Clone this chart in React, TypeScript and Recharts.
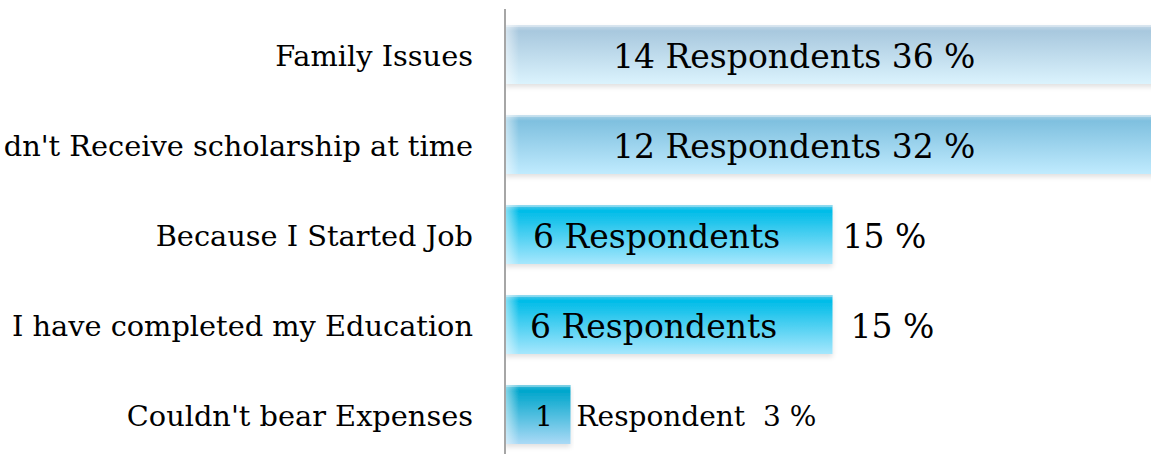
import { BarChart, Bar, XAxis, YAxis, LabelList } from 'recharts';

const reasons = [
  'Family Issues',
  "dn't Receive scholarship at time",
  'Because I Started Job',
  'I have completed my Education',
  "Couldn't bear Expenses",
];
const respondents = [14, 12, 6, 6, 1];
const percents = [36, 32, 15, 15, 3];
const innerLabels = ['14 Respondents 36 %', '12 Respondents 32 %', '6 Respondents', '6 Respondents', '1'];
const outerLabels = ['', '', '15 %', '15 %', 'Respondent\u00a0 3 %'];
const xTicks = [0, 30];

const data = reasons.map((name, i) => ({
  name,
  respondents: respondents[i],
  percent: percents[i],
}));

const FONT = '"DejaVu Serif", serif';
const gradIds = ['g0', 'g1', 'g2', 'g2', 'g4'];
// offsets of the inside text from the bar's left edge, and of outside text from its right edge
const innerOffset = [108, 108, 28, 25, 30];
const outerOffset = [0, 0, 10, 18, 6];
const labelSize = [33, 33, 33, 33, 28];

function BarShape(props: any) {
  const { x, y, width, height, index } = props;
  return (
    <g filter="url(#barShadow)">
      <rect x={x} y={y} width={width} height={height} fill={`url(#${gradIds[index]})`} />
      <rect x={x} y={y} width={Math.min(14, width)} height={height} fill="url(#edgeFade)" />
      <rect x={x} y={y} width={width} height={2} fill="#ffffff" opacity={0.35} />
    </g>
  );
}

function BarText(props: any) {
  const { x, y, width, height, index } = props;
  const fs = labelSize[index];
  const cy = y + height / 2 + fs * 0.4;
  return (
    <g style={{ fontFamily: FONT }}>
      <text x={x + innerOffset[index]} y={cy} fontSize={fs} fill="#000">
        {innerLabels[index]}
      </text>
      {outerLabels[index] && (
        <text x={x + width + outerOffset[index]} y={cy} fontSize={fs} fill="#000">
          {outerLabels[index]}
        </text>
      )}
    </g>
  );
}

function CategoryTick(props: any) {
  const { x, y, payload } = props;
  return (
    <text x={x - 32} y={y + 12} textAnchor="end" fontSize={28.8} fill="#000" style={{ fontFamily: FONT }}>
      {payload.value}
    </text>
  );
}

export default function App() {
  return (
    <div style={{ position: 'absolute', left: 0, top: 0, width: 1151, height: 454, overflow: 'hidden', background: '#fff' }}>
      <BarChart
        width={1160}
        height={460}
        data={data}
        layout="vertical"
        margin={{ top: 9, right: 0, bottom: 1, left: 0 }}
        barCategoryGap={31}
      >
        <defs>
          <linearGradient id="g0" x1="0" y1="0" x2="0" y2="1">
            <stop offset="0%" stopColor="#c6d9e7" />
            <stop offset="10%" stopColor="#a8c8de" />
            <stop offset="100%" stopColor="#dbf3fd" />
          </linearGradient>
          <linearGradient id="g1" x1="0" y1="0" x2="0" y2="1">
            <stop offset="0%" stopColor="#acd2e6" />
            <stop offset="10%" stopColor="#7fc0df" />
            <stop offset="100%" stopColor="#c0ebfe" />
          </linearGradient>
          <linearGradient id="g2" x1="0" y1="0" x2="0" y2="1">
            <stop offset="0%" stopColor="#5ac6e6" />
            <stop offset="10%" stopColor="#00bce8" />
            <stop offset="100%" stopColor="#a6e7fd" />
          </linearGradient>
          <linearGradient id="g4" x1="0" y1="0" x2="0" y2="1">
            <stop offset="0%" stopColor="#3ab8d8" />
            <stop offset="10%" stopColor="#00a6cc" />
            <stop offset="100%" stopColor="#abdaf6" />
          </linearGradient>
          <linearGradient id="edgeFade" x1="0" y1="0" x2="1" y2="0">
            <stop offset="0%" stopColor="#ffffff" stopOpacity={0.55} />
            <stop offset="100%" stopColor="#ffffff" stopOpacity={0} />
          </linearGradient>
          <filter id="barShadow" x="-5%" y="-10%" width="110%" height="130%">
            <feDropShadow dx="0" dy="3" stdDeviation="2.5" floodColor="#000" floodOpacity="0.12" />
          </filter>
        </defs>
        <XAxis type="number" hide domain={[xTicks[0], xTicks[1]]} allowDataOverflow />
        <YAxis
          type="category"
          dataKey="name"
          width={505}
          axisLine={{ stroke: '#a6a6a6', strokeWidth: 2 }}
          tickLine={false}
          tickSize={0}
          tickMargin={0}
          tick={<CategoryTick />}
          interval={0}
        />
        <Bar dataKey="percent" isAnimationActive={false} barSize={59} shape={<BarShape />}>
          <LabelList dataKey="respondents" content={<BarText />} />
        </Bar>
      </BarChart>
    </div>
  );
}
